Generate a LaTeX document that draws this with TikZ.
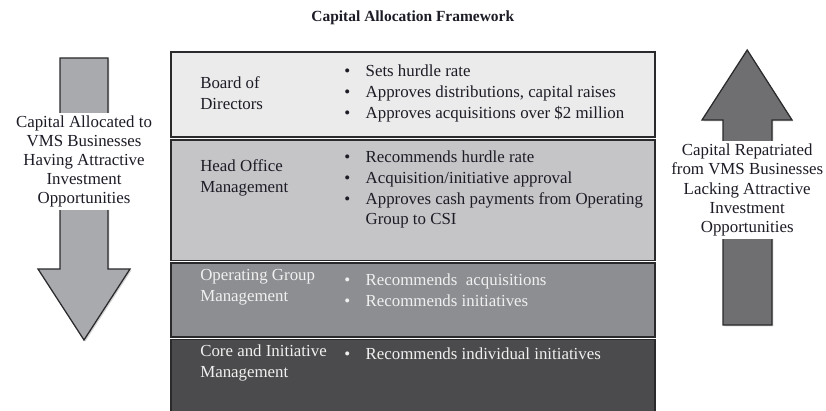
\documentclass[tikz,border=0pt]{standalone}
\usepackage{fontspec}
\setmainfont{Liberation Serif}
\usepackage{xcolor}
\usetikzlibrary{shadows}

\definecolor{boardgray}{HTML}{EBEBEB}
\definecolor{headgray}{HTML}{C5C5C7}
\definecolor{opgray}{HTML}{8D8E92}
\definecolor{coregray}{HTML}{4B4B4D}
\definecolor{downgray}{HTML}{A9AAAE}
\definecolor{upgray}{HTML}{6F6F71}
\definecolor{edgegray}{HTML}{2A2A2C}
\definecolor{inkdark}{HTML}{1C1C26}
\definecolor{inklight}{HTML}{F0F0F0}

\begin{document}
\begin{tikzpicture}[
  font=\fontsize{12}{14.8}\selectfont,
  layer/.style={draw=edgegray, line width=1.1pt, drop shadow={shadow xshift=0.7pt, shadow yshift=-0.7pt, opacity=0.35}},
  flow/.style={draw=edgegray, line width=0.9pt, line join=miter, drop shadow={shadow xshift=1pt, shadow yshift=-1pt, opacity=0.35}},
  who/.style={anchor=west, align=left, inner sep=0pt},
  duties/.style={anchor=west, inner sep=0pt},
  flowtext/.style={fill=white, align=center, inner sep=2pt, text=inkdark, font=\fontsize{12}{13.6}\selectfont}
]
\useasboundingbox (0,0) rectangle (20.65,-10.25);

% Title
\node[font=\fontsize{11}{13}\selectfont\bfseries, text=inkdark] (title) at (10.32,-0.45) {Capital Allocation Framework};

% Layers of the framework
\draw[layer, fill=boardgray] (4.275,-1.3) rectangle (16.375,-3.425);
\draw[layer, fill=headgray] (4.275,-3.5) rectangle (16.375,-6.51);
\draw[layer, fill=opgray] (4.275,-6.575) rectangle (16.375,-8.425);
\draw[layer, fill=coregray] (4.275,-8.49) rectangle (16.375,-10.6);

% Who decides
\node[who, text=inkdark] (board) at (5.0,-2.33) {Board of\\Directors};
\node[who, text=inkdark] (head) at (5.0,-4.45) {Head Office\\Management};
\node[who, text=inklight] (opgroup) at (5.0,-7.19) {Operating Group\\Management};
\node[who, text=inklight] (core) at (5.0,-9.07) {Core and Initiative\\Management};

% What they do
\node[duties, text=inkdark] (boardjobs) at (8.6,-2.33) {%
  \begin{tabular}{@{}c@{\hspace{11pt}}l@{}}
  \textbullet & Sets hurdle rate\\
  \textbullet & Approves distributions, capital raises\\
  \textbullet & Approves acquisitions over \$2 million
  \end{tabular}};
\node[duties, text=inkdark] (headjobs) at (8.6,-4.74) {%
  \begin{tabular}{@{}c@{\hspace{11pt}}l@{}}
  \textbullet & Recommends hurdle rate\\
  \textbullet & Acquisition/initiative approval\\
  \textbullet & Approves cash payments from Operating\\
              & Group to CSI
  \end{tabular}};
\node[duties, text=inklight] (opjobs) at (8.6,-7.29) {%
  \begin{tabular}{@{}c@{\hspace{11pt}}l@{}}
  \textbullet & Recommends\ \ acquisitions\\
  \textbullet & Recommends initiatives
  \end{tabular}};
\node[duties, text=inklight] (corejobs) at (8.6,-8.875) {%
  \begin{tabular}{@{}c@{\hspace{11pt}}l@{}}
  \textbullet & Recommends individual initiatives
  \end{tabular}};

% Capital flowing down
\draw[flow, fill=downgray] (1.5,-1.45) -- (2.7,-1.45) -- (2.7,-6.725) -- (3.25,-6.725)
  -- (2.1,-8.5) -- (0.95,-6.725) -- (1.5,-6.725) -- cycle;
\node[flowtext] (alloc) at (2.1,-4.03) {Capital Allocated to\\VMS Businesses\\Having Attractive\\Investment\\Opportunities};

% Capital flowing back up
\draw[flow, fill=upgray] (18.075,-8.125) -- (18.075,-3.0) -- (17.55,-3.0) -- (18.68,-1.25)
  -- (19.8,-3.0) -- (19.3,-3.0) -- (19.3,-8.125) -- cycle;
\node[flowtext] (repat) at (18.68,-4.75) {Capital Repatriated\\from VMS Businesses\\Lacking Attractive\\Investment\\Opportunities};

\end{tikzpicture}
\end{document}
